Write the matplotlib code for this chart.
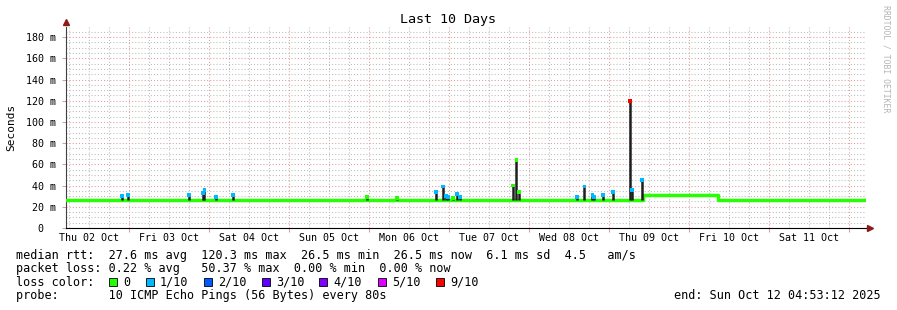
import numpy as np
import pandas as pd
import matplotlib
matplotlib.use("Agg")
import matplotlib.pyplot as plt
import matplotlib.dates as mdates
from matplotlib.patches import Rectangle
from matplotlib.transforms import blended_transform_factory

# ---- data ----
start = pd.Timestamp("2025-10-02 04:53:12")
end = pd.Timestamp("2025-10-12 04:53:12")

base_ms = 26.5
shift_start = pd.Timestamp("2025-10-09 10:08")
shift_end = pd.Timestamp("2025-10-10 08:38")
shift_ms = 31.0

spike_times = pd.to_datetime([
    "2025-10-02 21:45", "2025-10-02 23:38", "2025-10-03 17:56", "2025-10-03 22:08",
    "2025-10-03 22:35", "2025-10-04 02:02", "2025-10-04 07:08", "2025-10-05 23:20",
    "2025-10-06 08:20", "2025-10-06 20:02", "2025-10-06 22:08", "2025-10-06 23:02",
    "2025-10-06 23:38", "2025-10-07 01:08", "2025-10-07 02:20", "2025-10-07 03:14",
    "2025-10-07 19:08", "2025-10-07 20:10", "2025-10-07 20:56", "2025-10-08 14:24",
    "2025-10-08 16:34", "2025-10-08 18:58", "2025-10-08 19:26", "2025-10-08 22:12",
    "2025-10-09 01:12", "2025-10-09 06:14", "2025-10-09 06:50", "2025-10-09 09:50",
])
spike_ms = [30, 31, 31, 33, 36, 29, 31, 29, 28.5, 34, 39, 30, 29, 28, 32, 29,
            40, 64, 34, 29, 39, 31, 29, 31, 34, 120, 36, 45]
spike_loss = [1, 1, 1, 1, 1, 1, 1, 0, 0, 1, 1, 1, 1, 0, 1, 1,
              0, 0, 0, 1, 1, 1, 1, 1, 1, 9, 1, 1]

loss_steps = [0, 1, 2, 3, 4, 5, 9]
loss_labels = ["0", "1/10", "2/10", "3/10", "4/10", "5/10", "9/10"]
loss_colors = ["#26ff00", "#00b8ff", "#0059ff", "#5e00ff", "#7e00ff", "#dd00ff", "#ff0000"]
color_of = dict(zip(loss_steps, loss_colors))

day_labels = pd.date_range("2025-10-02", "2025-10-11", freq="D")

stats_rtt = "median rtt:  27.6 ms avg  120.3 ms max  26.5 ms min  26.5 ms now  6.1 ms sd  4.5   am/s"
stats_loss = "packet loss: 0.22 % avg   50.37 % max  0.00 % min  0.00 % now"
probe_text = "probe:       10 ICMP Echo Pings (56 Bytes) every 80s"
end_text = "end: Sun Oct 12 04:53:12 2025"

MONO = "DejaVu Sans Mono"
W, H = 897, 310

fig = plt.figure(figsize=(W / 100, H / 100), dpi=100)
fig.patch.set_facecolor("white")
ax = fig.add_axes([65.5 / W, 82 / H, 800 / W, 201 / H])
ax.set_xlim(start, end)
ax.set_ylim(0, 189.5)

# grid
ax.xaxis.set_major_locator(mdates.DayLocator())
ax.xaxis.set_minor_locator(mdates.HourLocator(byhour=[6, 12, 18]))
ax.yaxis.set_major_locator(plt.MultipleLocator(20))
ax.yaxis.set_minor_locator(plt.MultipleLocator(5))
ax.grid(which="minor", color="#bcbcbc", lw=0.75, ls=(0, (1, 2)))
ax.grid(which="major", color="#e29a9a", lw=0.75, ls=(0, (1, 2)))
ax.set_axisbelow(True)
ax.tick_params(which="major", length=3, color="#e29a9a", width=0.75)
ax.tick_params(which="minor", length=0)
ax.set_xticklabels([])
yt = np.arange(0, 181, 20)
ax.set_yticks(yt)
ax.set_yticklabels(["0  "] + [f"{v} m" for v in yt[1:]], fontfamily=MONO, fontsize=7.2)
ax.tick_params(axis="y", pad=4)

for s in ["top", "right"]:
    ax.spines[s].set_visible(False)
ax.spines["left"].set_color("#404040")
ax.spines["bottom"].set_color("black")
ax.spines["left"].set_linewidth(0.8)
ax.spines["bottom"].set_linewidth(0.8)
ax.plot([0], [1.025], marker="^", color="#8b1c1c", ms=4, transform=ax.transAxes, clip_on=False)
ax.plot([1.006], [0], marker=">", color="#8b1c1c", ms=4, transform=ax.transAxes, clip_on=False)

# day labels centred at noon
tr = blended_transform_factory(ax.transData, fig.transFigure)
for d in day_labels:
    ax.text(d + pd.Timedelta(hours=12), 1 - 241 / H, d.strftime("%a %d %b"),
            transform=tr, ha="center", va="baseline", fontfamily=MONO, fontsize=7.2)

# median line
med_t = [start, shift_start, shift_end, end]
med_v = [base_ms, shift_ms, base_ms, base_ms]
ax.step(med_t, med_v, where="post", color=color_of[0], lw=2.5, zorder=3)

# spikes
ax.vlines(spike_times, base_ms, spike_ms, color="#1e1e1e", lw=1.8, zorder=4)
ax.scatter(spike_times, spike_ms, marker="s", s=7, linewidths=0,
           c=[color_of[l] for l in spike_loss], zorder=5)

# title / labels
fig.text(448 / W, 1 - 19 / H, "Last 10 Days", ha="center", va="center", fontfamily=MONO, fontsize=9.6)
fig.text(11 / W, 1 - 127 / H, "Seconds", rotation=90, ha="center", va="center", fontfamily=MONO, fontsize=8)
fig.text(886 / W, 1 - 5 / H, "RRDTOOL / TOBI OETIKER", rotation=270, ha="center", va="top",
         fontfamily=MONO, fontsize=5.9, color="#b4b4b4")

# legend block
fig.text(16 / W, 1 - 258.5 / H, stats_rtt, va="baseline", fontfamily=MONO, fontsize=8.45)
fig.text(16 / W, 1 - 272 / H, stats_loss, va="baseline", fontfamily=MONO, fontsize=8.45)
fig.text(16 / W, 1 - 285.7 / H, "loss color:", va="baseline", fontfamily=MONO, fontsize=8.45)
box_x = [109, 146, 204, 262, 319, 378, 436]
for bx, lab, col in zip(box_x, loss_labels, loss_colors):
    fig.patches.append(Rectangle((bx / W, 1 - 286 / H), 8 / W, 8 / H, transform=fig.transFigure,
                                 facecolor=col, edgecolor="black", lw=0.6))
    fig.text((bx + 14) / W, 1 - 285.7 / H, lab, va="baseline", fontfamily=MONO, fontsize=8.45)
fig.text(16 / W, 1 - 299.3 / H, probe_text, va="baseline", fontfamily=MONO, fontsize=8.45)
fig.text(881 / W, 1 - 299.3 / H, end_text, ha="right", va="baseline", fontfamily=MONO, fontsize=8.45)

fig.savefig("out.png", dpi=100, facecolor="white")
